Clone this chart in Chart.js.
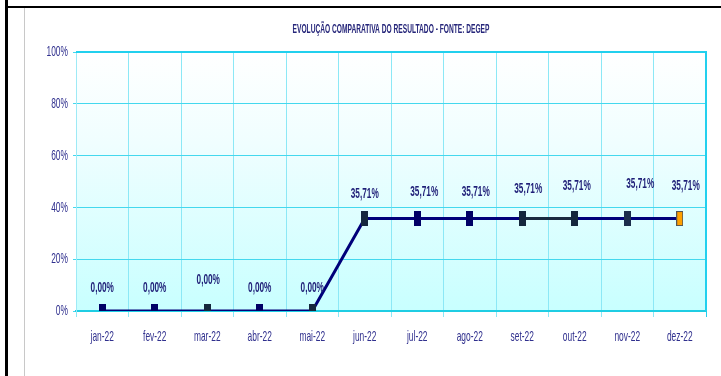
<!DOCTYPE html>
<html>
<head>
<meta charset="utf-8">
<script src="https://cdn.jsdelivr.net/npm/chart.js@4/dist/chart.umd.min.js"></script>
<style>
  html, body { margin: 0; padding: 0; background: #fff; }
  #moldura { position: relative; width: 721px; height: 376px; overflow: hidden; }
  #grafico { position: absolute; left: 0; top: 0; }
  .linha { position: absolute; }
  #bordaTopo { left: 5px; top: 6px; width: 716px; height: 2px; background: #000; }
  #bordaEsq { left: 5px; top: 0; width: 3px; height: 376px; background: #000; }
  #bordaCinza { left: 24px; top: 8px; width: 1px; height: 368px; background: #c8c8c8; }
</style>
</head>
<body>
<div id="moldura">
  <canvas id="grafico" width="721" height="376"></canvas>
  <div class="linha" id="bordaTopo"></div>
  <div class="linha" id="bordaEsq"></div>
  <div class="linha" id="bordaCinza"></div>
</div>
<script>
const titulo = "EVOLUÇÃO COMPARATIVA DO RESULTADO - FONTE: DEGEP";
const meses = ["jan-22", "fev-22", "mar-22", "abr-22", "mai-22", "jun-22",
  "jul-22", "ago-22", "set-22", "out-22", "nov-22", "dez-22"];
const resultado = [0, 0, 0, 0, 0, 35.71, 35.71, 35.71, 35.71, 35.71, 35.71, 35.71];
const escalaY = [0, 20, 40, 60, 80, 100];

// cor de cada marcador e deslocamento dos rotulos de valor
const corMarcador = ["#000066", "#000066", "#15273d", "#000066", "#15273d", "#15273d",
  "#000066", "#000066", "#15273d", "#15273d", "#1c2d4c", "#ffa000"];
const sobeRotulo = [23, 23, 31, 23, 23, 25, 27, 27, 30, 33, 35, 33];
const ladoRotulo = [0, 0, 1, 0, 0, 0, 7, 6, 6, 2, 13, 6];

const azulTexto = "#1f1f78";
const fonte = "'Liberation Sans', Arial, sans-serif";

function marcador(cor) {
  const c = document.createElement("canvas");
  c.width = 7; c.height = 15;
  const g = c.getContext("2d");
  g.fillStyle = cor == "#ffa000" ? "#555555" : cor;
  g.fillRect(0, 0, 7, 15);
  g.fillStyle = cor;
  g.fillRect(1, 1, 5, 13);
  return c;
}

function pct(v) {
  return v.toFixed(2).replace(".", ",") + "%";
}

// texto apertado na horizontal
function escreve(ctx, txt, x, y, sx, alinha) {
  ctx.save();
  ctx.translate(x, y);
  ctx.scale(sx, 1);
  ctx.textAlign = alinha;
  ctx.textBaseline = "middle";
  ctx.fillText(txt, 0, 0);
  ctx.restore();
}

const fundo = {
  id: "fundo",
  beforeDraw(chart) {
    const a = chart.chartArea, ctx = chart.ctx;
    const grad = ctx.createLinearGradient(0, a.top, 0, a.bottom);
    grad.addColorStop(0, "#ffffff");
    grad.addColorStop(0.35, "#f0feff");
    grad.addColorStop(1, "#c8ffff");
    ctx.save();
    ctx.fillStyle = grad;
    ctx.fillRect(a.left, a.top, a.right - a.left, a.bottom - a.top);
    ctx.restore();
  },
  beforeDatasetsDraw(chart) {
    const a = chart.chartArea, ctx = chart.ctx;
    ctx.save();
    ctx.strokeStyle = "#22d0ee";
    ctx.lineWidth = 2;
    ctx.beginPath();
    ctx.moveTo(a.left, a.top);
    ctx.lineTo(a.right, a.top);
    ctx.lineTo(a.right, a.bottom);
    ctx.stroke();
    ctx.restore();
  }
};

const textos = {
  id: "textos",
  afterDatasetsDraw(chart) {
    const ctx = chart.ctx, a = chart.chartArea;
    const sx = chart.scales.x, sy = chart.scales.y;
    ctx.save();
    ctx.fillStyle = "#26267a";
    ctx.font = "bold 13px " + fonte;
    escreve(ctx, titulo, (a.left + a.right) / 2, a.top - 23, 0.51, "center");

    ctx.fillStyle = "#30308e";
    ctx.font = "15px " + fonte;
    escalaY.forEach(v => {
      escreve(ctx, v + "%", a.left - 8, sy.getPixelForValue(v), 0.56, "right");
    });
    meses.forEach((m, i) => {
      escreve(ctx, m, sx.getPixelForValue(i), a.bottom + 26, 0.56, "center");
    });

    ctx.fillStyle = azulTexto;
    ctx.font = "bold 15px " + fonte;
    chart.getDatasetMeta(0).data.forEach((p, i) => {
      escreve(ctx, pct(resultado[i]), p.x + ladoRotulo[i], p.y - sobeRotulo[i], 0.55, "center");
    });
    ctx.restore();
  }
};

new Chart(document.getElementById("grafico"), {
  type: "line",
  data: {
    labels: meses,
    datasets: [{
      data: resultado,
      borderColor: "#00007a",
      borderWidth: 3,
      tension: 0,
      pointStyle: corMarcador.map(marcador),
      segment: {
        borderColor: s => s.p0DataIndex == 8 ? "#1a2a40" : "#00007a"
      }
    }]
  },
  options: {
    responsive: false,
    animation: false,
    events: [],
    layout: { padding: { top: 52, right: 15, left: 0, bottom: 0 } },
    plugins: {
      legend: { display: false },
      tooltip: { enabled: false }
    },
    scales: {
      x: {
        offset: true,
        grid: {
          offset: true,
          color: c => c.index === undefined ? "#22d0ee" : "#8ce8f6",
          tickLength: 6
        },
        border: { color: "#1fcde3", width: 2 },
        ticks: { display: false },
        afterFit: s => { s.height = 65; }
      },
      y: {
        min: 0,
        max: 100,
        ticks: { display: false, stepSize: 20 },
        grid: { color: "#44d8ee", lineWidth: 1, tickLength: 3 },
        border: { color: "#9eeaf6", width: 1 },
        afterFit: s => { s.width = 76; }
      }
    }
  },
  plugins: [fundo, textos]
});
</script>
</body>
</html>
